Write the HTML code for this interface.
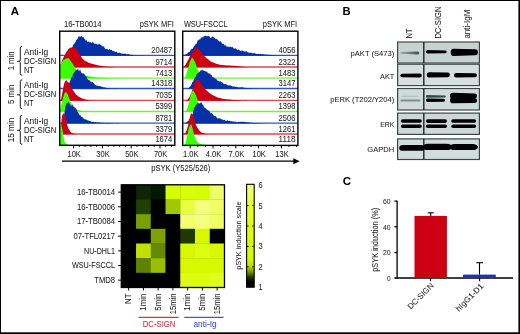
<!DOCTYPE html>
<html><head><meta charset="utf-8"><style>html,body{margin:0;padding:0;background:#fff;width:520px;height:334px;overflow:hidden}</style></head>
<body><svg width="520" height="334" viewBox="0 0 520 334" style="display:block;will-change:transform">
<style>text{font-family:"Liberation Sans", sans-serif;stroke-width:0.04px}</style>
<rect x="0" y="0" width="520" height="334" fill="#000"/>
<rect x="1" y="1" width="517.4" height="331.3" fill="#fff"/>
<text x="10.8" y="14.6" font-size="11.2" text-anchor="start" fill="#000" stroke="none" font-weight="bold" textLength="8.3" lengthAdjust="spacingAndGlyphs" >A</text>
<text x="63.9" y="26.6" font-size="8.5" text-anchor="start" fill="#1a1a1a" stroke="#1a1a1a" font-weight="normal" textLength="37.7" lengthAdjust="spacingAndGlyphs" >16-TB0014</text>
<text x="173.8" y="26.6" font-size="8.5" text-anchor="end" fill="#1a1a1a" stroke="#1a1a1a" font-weight="normal" textLength="34.1" lengthAdjust="spacingAndGlyphs" >pSYK MFI</text>
<text x="183.9" y="26.6" font-size="8.5" text-anchor="start" fill="#1a1a1a" stroke="#1a1a1a" font-weight="normal" textLength="43.8" lengthAdjust="spacingAndGlyphs" >WSU-FSCCL</text>
<text x="297.1" y="26.6" font-size="8.5" text-anchor="end" fill="#1a1a1a" stroke="#1a1a1a" font-weight="normal" textLength="34.3" lengthAdjust="spacingAndGlyphs" >pSYK MFI</text>
<clipPath id="cp59"><rect x="59.7" y="31" width="115.10000000000001" height="114.2"/></clipPath>
<g clip-path="url(#cp59)">
<line x1="59.7" y1="55.400000000000006" x2="174.8" y2="55.400000000000006" stroke="#2f58c4" stroke-width="1.3"/>
<path d="M60.00,55.70L60.00,55.70L60.40,55.70L60.80,55.70L61.20,55.70L61.60,55.70L62.00,55.70L62.40,55.70L62.80,55.70L63.20,55.68L63.60,55.63L64.00,55.64L64.40,55.68L64.80,55.68L65.20,55.69L65.60,55.69L66.00,55.66L66.40,55.62L66.80,55.59L67.20,55.57L67.60,55.57L68.00,55.54L68.40,55.46L68.80,55.48L69.20,55.53L69.60,55.36L70.00,54.16L70.40,52.43L70.80,51.12L71.20,50.00L71.60,48.86L72.00,48.19L72.40,47.17L72.80,45.77L73.20,44.88L73.60,44.20L74.00,44.02L74.40,43.85L74.80,42.67L75.20,42.20L75.60,41.92L76.00,40.50L76.40,39.57L76.80,39.68L77.20,39.52L77.60,38.68L78.00,37.65L78.40,36.73L78.80,36.55L79.20,36.55L79.60,36.34L80.00,36.79L80.40,36.95L80.80,36.17L81.20,35.85L81.60,36.34L82.00,36.53L82.40,36.87L82.80,37.38L83.20,36.81L83.60,37.11L84.00,38.38L84.40,38.85L84.80,38.98L85.20,39.46L85.60,40.51L86.00,40.63L86.40,39.84L86.80,40.40L87.20,41.80L87.60,41.90L88.00,41.60L88.40,41.54L88.80,41.54L89.20,42.10L89.60,42.48L90.00,42.33L90.40,41.97L90.80,42.24L91.20,43.10L91.60,43.11L92.00,42.20L92.40,41.95L92.80,42.16L93.20,42.26L93.60,42.84L94.00,43.57L94.40,43.95L94.80,43.60L95.20,43.36L95.60,44.00L96.00,44.25L96.40,43.91L96.80,43.63L97.20,43.83L97.60,44.71L98.00,45.02L98.40,44.24L98.80,43.57L99.20,43.74L99.60,44.29L100.00,44.64L100.40,44.75L100.80,44.82L101.20,45.10L101.60,45.69L102.00,46.06L102.40,46.26L102.80,46.52L103.20,46.48L103.60,46.24L104.00,46.48L104.40,47.49L104.80,48.60L105.20,48.84L105.60,48.63L106.00,48.92L106.40,49.24L106.80,48.75L107.20,48.75L107.60,49.60L108.00,49.97L108.40,49.86L108.80,49.61L109.20,49.22L109.60,49.18L110.00,49.62L110.40,49.89L110.80,49.83L111.20,49.74L111.60,49.86L112.00,50.31L112.40,50.91L112.80,51.22L113.20,51.09L113.60,50.81L114.00,51.00L114.40,51.50L114.80,51.67L115.20,51.74L115.60,52.06L116.00,52.21L116.40,51.80L116.80,51.62L117.20,52.16L117.60,52.71L118.00,53.00L118.40,53.00L118.80,52.68L119.20,52.60L119.60,52.80L120.00,52.92L120.40,53.01L120.80,53.27L121.20,53.56L121.60,53.52L122.00,53.47L122.40,53.61L122.80,53.73L123.20,53.78L123.60,53.68L124.00,53.60L124.40,53.75L124.80,53.79L125.20,53.69L125.60,53.61L126.00,53.83L126.40,54.17L126.80,54.17L127.20,54.17L127.60,54.19L128.00,54.09L128.40,54.09L128.80,54.22L129.20,54.33L129.60,54.41L130.00,54.63L130.40,54.75L130.80,54.78L131.20,54.80L131.60,54.70L132.00,54.67L132.40,54.77L132.80,54.99L133.20,55.14L133.60,55.11L134.00,55.13L134.40,55.21L134.80,55.23L135.20,55.18L135.60,55.19L136.00,55.27L136.40,55.31L136.80,55.41L137.20,55.50L137.60,55.52L138.00,55.52L138.40,55.44L138.80,55.39L139.20,55.42L139.60,55.40L140.00,55.39L140.40,55.45L140.80,55.51L141.20,55.59L141.60,55.61L142.00,55.60L142.40,55.62L142.80,55.59L143.20,55.56L143.60,55.56L144.00,55.61L144.40,55.65L144.80,55.64L145.20,55.66L145.60,55.66L146.00,55.66L146.40,55.67L146.80,55.69L147.20,55.70L147.60,55.70L148.00,55.70L148.40,55.70L148.80,55.70L149.20,55.69L149.60,55.70L150.00,55.70L150.00,55.70Z" fill="#0530a8"/>
<line x1="59.7" y1="67.0" x2="174.8" y2="67.0" stroke="#d84a5a" stroke-width="1.3"/>
<path d="M59.90,67.30L59.90,66.60L60.30,65.48L60.70,64.38L61.10,63.24L61.50,62.27L61.90,61.37L62.30,60.31L62.70,59.27L63.10,58.40L63.50,57.55L63.90,56.51L64.30,55.65L64.70,55.09L65.10,54.36L65.50,53.56L65.90,52.76L66.30,51.91L66.70,51.44L67.10,51.15L67.50,50.57L67.90,49.66L68.30,48.90L68.70,48.70L69.10,48.52L69.50,48.25L69.90,47.91L70.30,47.62L70.70,47.65L71.10,47.59L71.50,47.40L71.90,47.43L72.30,47.35L72.70,47.06L73.10,47.08L73.50,47.30L73.90,47.47L74.30,47.55L74.70,47.51L75.10,47.70L75.50,48.08L75.90,48.51L76.30,49.05L76.70,49.60L77.10,50.07L77.50,50.68L77.90,51.37L78.30,51.88L78.70,52.47L79.10,53.30L79.50,54.03L79.90,54.42L80.30,54.95L80.70,55.83L81.10,56.63L81.50,57.19L81.90,57.85L82.30,58.60L82.70,58.97L83.10,59.29L83.50,59.69L83.90,59.91L84.30,60.24L84.70,60.64L85.10,60.95L85.50,61.27L85.90,61.34L86.30,61.38L86.70,61.60L87.10,61.76L87.50,61.94L87.90,62.16L88.30,62.48L88.70,62.82L89.10,62.88L89.50,62.94L89.90,63.18L90.30,63.33L90.70,63.37L91.10,63.56L91.50,63.78L91.90,63.80L92.30,63.81L92.70,63.92L93.10,63.95L93.50,64.02L93.90,64.26L94.30,64.51L94.70,64.62L95.10,64.59L95.50,64.60L95.90,64.69L96.30,64.82L96.70,64.94L97.10,65.04L97.50,65.14L97.90,65.27L98.30,65.41L98.70,65.51L99.10,65.54L99.50,65.62L99.90,65.65L100.30,65.66L100.70,65.65L101.10,65.64L101.50,65.78L101.90,65.96L102.30,66.01L102.70,66.10L103.10,66.19L103.50,66.25L103.90,66.40L104.30,66.52L104.70,66.49L105.10,66.48L105.50,66.52L105.90,66.61L106.30,66.65L106.70,66.64L107.10,66.70L107.50,66.71L107.90,66.70L108.30,66.75L108.70,66.80L109.10,66.81L109.50,66.84L109.90,66.88L110.30,66.88L110.70,66.86L111.10,66.87L111.50,66.95L111.90,66.99L112.30,66.99L112.70,67.01L113.10,67.02L113.50,67.02L113.90,67.04L114.30,67.08L114.70,67.12L115.10,67.16L115.50,67.14L115.90,67.12L116.30,67.15L116.70,67.19L117.10,67.19L117.50,67.19L117.90,67.20L118.30,67.22L118.70,67.22L119.10,67.22L119.50,67.24L119.90,67.25L120.30,67.25L120.70,67.27L121.10,67.28L121.50,67.29L121.90,67.30L121.90,67.30Z" fill="#cc0010"/>
<line x1="59.7" y1="78.10000000000001" x2="174.8" y2="78.10000000000001" stroke="#74f048" stroke-width="1.3"/>
<path d="M59.90,78.40L59.90,66.79L60.30,65.50L60.70,64.22L61.10,63.08L61.50,62.21L61.90,61.70L62.30,61.55L62.70,61.30L63.10,60.62L63.50,60.03L63.90,59.75L64.30,59.56L64.70,59.43L65.10,59.29L65.50,58.91L65.90,58.39L66.30,58.26L66.70,58.41L67.10,58.40L67.50,58.03L67.90,57.71L68.30,58.09L68.70,58.59L69.10,58.79L69.50,59.18L69.90,59.83L70.30,60.38L70.70,60.88L71.10,61.45L71.50,62.13L71.90,62.74L72.30,63.16L72.70,63.62L73.10,64.39L73.50,65.36L73.90,65.94L74.30,66.51L74.70,67.32L75.10,67.90L75.50,68.35L75.90,68.90L76.30,69.47L76.70,69.83L77.10,70.02L77.50,70.35L77.90,70.82L78.30,71.22L78.70,71.48L79.10,71.82L79.50,72.33L79.90,72.69L80.30,72.90L80.70,73.20L81.10,73.44L81.50,73.59L81.90,73.83L82.30,74.10L82.70,74.32L83.10,74.55L83.50,74.73L83.90,74.96L84.30,75.10L84.70,75.12L85.10,75.29L85.50,75.48L85.90,75.57L86.30,75.63L86.70,75.75L87.10,75.84L87.50,75.94L87.90,76.11L88.30,76.25L88.70,76.28L89.10,76.27L89.50,76.30L89.90,76.41L90.30,76.56L90.70,76.65L91.10,76.71L91.50,76.78L91.90,76.82L92.30,76.89L92.70,77.01L93.10,77.06L93.50,77.05L93.90,76.99L94.30,77.01L94.70,77.17L95.10,77.32L95.50,77.40L95.90,77.39L96.30,77.40L96.70,77.45L97.10,77.48L97.50,77.54L97.90,77.56L98.30,77.58L98.70,77.62L99.10,77.59L99.50,77.61L99.90,77.73L100.30,77.76L100.70,77.73L101.10,77.76L101.50,77.82L101.90,77.83L102.30,77.83L102.70,77.83L103.10,77.83L103.50,77.83L103.90,77.82L104.30,77.84L104.70,77.88L105.10,77.90L105.50,77.92L105.90,77.98L106.30,78.03L106.70,78.03L107.10,78.02L107.50,78.03L107.90,78.06L108.30,78.09L108.70,78.09L109.10,78.09L109.50,78.13L109.90,78.17L110.30,78.18L110.70,78.20L111.10,78.21L111.50,78.22L111.90,78.21L112.30,78.21L112.70,78.24L113.10,78.27L113.50,78.27L113.90,78.28L114.30,78.31L114.70,78.31L115.10,78.30L115.50,78.30L115.90,78.31L116.30,78.33L116.70,78.34L117.10,78.32L117.50,78.32L117.90,78.33L118.30,78.34L118.70,78.35L119.10,78.37L119.50,78.37L119.90,78.37L120.30,78.37L120.70,78.38L121.10,78.38L121.50,78.38L121.90,78.38L122.30,78.39L122.70,78.39L123.10,78.39L123.50,78.40L123.90,78.40L124.30,78.40L124.70,78.40L124.70,78.40Z" fill="#3cff00"/>
<line x1="59.7" y1="88.5" x2="174.8" y2="88.5" stroke="#2f58c4" stroke-width="1.3"/>
<path d="M65.00,88.80L65.00,88.80L65.40,88.75L65.80,88.68L66.20,88.48L66.60,88.22L67.00,88.05L67.40,87.80L67.80,87.52L68.20,86.77L68.60,85.25L69.00,83.84L69.40,82.75L69.80,81.70L70.20,80.93L70.60,79.53L71.00,77.67L71.40,77.18L71.80,77.99L72.20,77.90L72.60,75.90L73.00,74.01L73.40,73.48L73.80,72.89L74.20,72.23L74.60,72.04L75.00,71.30L75.40,70.38L75.80,70.04L76.20,70.11L76.60,70.15L77.00,70.00L77.40,69.75L77.80,68.75L78.20,68.52L78.60,70.35L79.00,71.56L79.40,70.85L79.80,69.84L80.20,69.58L80.60,70.55L81.00,72.27L81.40,72.86L81.80,72.82L82.20,73.26L82.60,73.38L83.00,73.50L83.40,73.60L83.80,73.62L84.20,73.86L84.60,74.53L85.00,75.39L85.40,75.70L85.80,75.97L86.20,76.26L86.60,76.72L87.00,77.84L87.40,78.88L87.80,79.41L88.20,79.51L88.60,79.71L89.00,80.08L89.40,80.13L89.80,80.48L90.20,81.27L90.60,81.73L91.00,81.59L91.40,81.86L91.80,82.39L92.20,82.08L92.60,82.04L93.00,82.69L93.40,82.92L93.80,82.89L94.20,83.58L94.60,84.47L95.00,84.78L95.40,84.91L95.80,85.36L96.20,85.67L96.60,85.52L97.00,85.53L97.40,85.68L97.80,85.68L98.20,85.75L98.60,86.05L99.00,86.25L99.40,86.05L99.80,86.03L100.20,86.22L100.60,86.28L101.00,86.50L101.40,86.66L101.80,86.68L102.20,86.84L102.60,86.95L103.00,87.06L103.40,87.26L103.80,87.49L104.20,87.50L104.60,87.33L105.00,87.41L105.40,87.60L105.80,87.69L106.20,87.79L106.60,88.00L107.00,88.07L107.40,88.03L107.80,88.09L108.20,88.13L108.60,88.10L109.00,88.13L109.40,88.09L109.80,87.99L110.20,88.01L110.60,88.13L111.00,88.29L111.40,88.46L111.80,88.54L112.20,88.59L112.60,88.64L113.00,88.58L113.40,88.44L113.80,88.39L114.20,88.49L114.60,88.59L115.00,88.62L115.40,88.62L115.80,88.61L116.20,88.60L116.60,88.55L117.00,88.51L117.40,88.53L117.80,88.57L118.20,88.65L118.60,88.69L119.00,88.65L119.40,88.66L119.80,88.73L120.20,88.77L120.60,88.79L121.00,88.77L121.40,88.75L121.80,88.77L122.20,88.80L122.60,88.80L123.00,88.79L123.40,88.78L123.80,88.79L124.20,88.80L124.60,88.80L125.00,88.80L125.00,88.80Z" fill="#0530a8"/>
<line x1="59.7" y1="100.4" x2="174.8" y2="100.4" stroke="#d84a5a" stroke-width="1.3"/>
<path d="M59.90,100.70L59.90,100.70L60.30,100.45L60.70,99.92L61.10,98.98L61.50,97.30L61.90,95.17L62.30,92.96L62.70,90.85L63.10,88.77L63.50,86.76L63.90,84.66L64.30,83.11L64.70,82.16L65.10,81.57L65.50,80.94L65.90,80.32L66.30,80.26L66.70,80.74L67.10,81.10L67.50,81.45L67.90,82.22L68.30,82.42L68.70,82.40L69.10,83.13L69.50,84.06L69.90,84.77L70.30,85.44L70.70,86.28L71.10,86.95L71.50,87.62L71.90,88.34L72.30,88.99L72.70,89.81L73.10,90.47L73.50,90.98L73.90,91.52L74.30,92.00L74.70,92.56L75.10,93.27L75.50,93.90L75.90,94.38L76.30,94.72L76.70,95.02L77.10,95.40L77.50,95.75L77.90,96.11L78.30,96.42L78.70,96.66L79.10,96.96L79.50,97.12L79.90,97.28L80.30,97.58L80.70,97.85L81.10,98.06L81.50,98.25L81.90,98.40L82.30,98.52L82.70,98.62L83.10,98.68L83.50,98.75L83.90,98.90L84.30,99.06L84.70,99.21L85.10,99.36L85.50,99.52L85.90,99.64L86.30,99.64L86.70,99.65L87.10,99.79L87.50,99.90L87.90,99.96L88.30,100.08L88.70,100.19L89.10,100.27L89.50,100.30L89.90,100.28L90.30,100.27L90.70,100.34L91.10,100.41L91.50,100.43L91.90,100.46L92.30,100.49L92.70,100.48L93.10,100.48L93.50,100.50L93.90,100.54L94.30,100.59L94.70,100.60L95.10,100.58L95.50,100.60L95.90,100.64L96.30,100.64L96.70,100.65L97.10,100.66L97.50,100.67L97.90,100.68L98.30,100.69L98.70,100.69L99.10,100.70L99.50,100.70L99.90,100.70L99.90,100.70Z" fill="#cc0010"/>
<line x1="59.7" y1="111.5" x2="174.8" y2="111.5" stroke="#74f048" stroke-width="1.3"/>
<path d="M59.90,111.80L59.90,109.90L60.30,108.48L60.70,106.88L61.10,105.28L61.50,103.88L61.90,102.50L62.30,100.96L62.70,99.41L63.10,97.85L63.50,96.13L63.90,94.69L64.30,93.77L64.70,93.07L65.10,92.60L65.50,92.24L65.90,92.26L66.30,92.59L66.70,92.87L67.10,93.31L67.50,93.99L67.90,94.79L68.30,95.88L68.70,96.94L69.10,98.15L69.50,99.34L69.90,100.28L70.30,101.11L70.70,101.94L71.10,102.99L71.50,103.86L71.90,104.36L72.30,105.07L72.70,105.87L73.10,106.52L73.50,107.08L73.90,107.53L74.30,107.86L74.70,108.08L75.10,108.45L75.50,108.95L75.90,109.26L76.30,109.47L76.70,109.69L77.10,109.81L77.50,109.95L77.90,110.13L78.30,110.23L78.70,110.26L79.10,110.30L79.50,110.42L79.90,110.57L80.30,110.70L80.70,110.81L81.10,110.90L81.50,110.97L81.90,111.04L82.30,111.14L82.70,111.20L83.10,111.20L83.50,111.24L83.90,111.32L84.30,111.35L84.70,111.36L85.10,111.40L85.50,111.45L85.90,111.48L86.30,111.49L86.70,111.50L87.10,111.55L87.50,111.64L87.90,111.67L88.30,111.65L88.70,111.64L89.10,111.66L89.50,111.68L89.90,111.71L90.30,111.72L90.70,111.71L91.10,111.71L91.50,111.73L91.90,111.74L92.30,111.75L92.70,111.75L93.10,111.75L93.50,111.76L93.90,111.77L94.30,111.77L94.70,111.76L95.10,111.77L95.50,111.79L95.90,111.79L96.30,111.79L96.70,111.79L97.10,111.80L97.50,111.80L97.90,111.79L98.30,111.79L98.70,111.80L99.10,111.80L99.50,111.80L99.90,111.80L99.90,111.80Z" fill="#3cff00"/>
<line x1="59.7" y1="123.10000000000001" x2="174.8" y2="123.10000000000001" stroke="#2f58c4" stroke-width="1.3"/>
<path d="M61.00,123.40L61.00,123.40L61.40,123.14L61.80,122.58L62.20,121.89L62.60,121.12L63.00,120.17L63.40,119.37L63.80,117.62L64.20,114.69L64.60,111.86L65.00,109.58L65.40,107.49L65.80,104.99L66.20,103.77L66.60,103.48L67.00,102.74L67.40,102.51L67.80,102.99L68.20,102.47L68.60,101.79L69.00,102.44L69.40,103.57L69.80,103.96L70.20,104.23L70.60,105.62L71.00,106.54L71.40,105.98L71.80,105.02L72.20,104.29L72.60,104.94L73.00,106.26L73.40,106.51L73.80,106.39L74.20,106.97L74.60,107.47L75.00,107.59L75.40,107.90L75.80,108.49L76.20,109.02L76.60,109.32L77.00,110.58L77.40,111.90L77.80,112.12L78.20,112.62L78.60,113.55L79.00,114.34L79.40,114.75L79.80,115.01L80.20,115.31L80.60,115.48L81.00,116.05L81.40,116.81L81.80,116.99L82.20,116.94L82.60,117.32L83.00,117.94L83.40,118.36L83.80,118.74L84.20,119.26L84.60,119.31L85.00,119.08L85.40,119.36L85.80,119.78L86.20,119.87L86.60,119.65L87.00,119.73L87.40,120.20L87.80,120.55L88.20,120.63L88.60,120.48L89.00,120.71L89.40,121.05L89.80,121.02L90.20,121.09L90.60,121.25L91.00,121.44L91.40,121.69L91.80,121.73L92.20,121.67L92.60,121.83L93.00,121.86L93.40,121.72L93.80,121.92L94.20,122.20L94.60,122.20L95.00,122.06L95.40,122.03L95.80,122.12L96.20,122.28L96.60,122.50L97.00,122.55L97.40,122.49L97.80,122.44L98.20,122.54L98.60,122.53L99.00,122.34L99.40,122.46L99.80,122.55L100.20,122.46L100.60,122.49L101.00,122.74L101.40,123.02L101.80,122.92L102.20,122.75L102.60,122.85L103.00,123.03L103.40,123.00L103.80,122.78L104.20,122.76L104.60,122.91L105.00,122.91L105.40,122.94L105.80,123.01L106.20,122.97L106.60,122.89L107.00,122.83L107.40,122.83L107.80,122.94L108.20,123.01L108.60,123.02L109.00,123.10L109.40,123.11L109.80,123.03L110.20,123.05L110.60,123.06L111.00,123.09L111.40,123.14L111.80,123.11L112.20,123.10L112.60,123.14L113.00,123.18L113.40,123.28L113.80,123.35L114.20,123.31L114.60,123.26L115.00,123.22L115.40,123.24L115.80,123.29L116.20,123.27L116.60,123.22L117.00,123.24L117.40,123.29L117.80,123.32L118.20,123.35L118.60,123.36L119.00,123.36L119.40,123.38L119.80,123.39L119.80,123.40Z" fill="#0530a8"/>
<line x1="59.7" y1="134.0" x2="174.8" y2="134.0" stroke="#d84a5a" stroke-width="1.3"/>
<path d="M59.90,134.30L59.90,134.30L60.30,133.52L60.70,131.51L61.10,126.20L61.50,120.02L61.90,116.59L62.30,115.02L62.70,114.40L63.10,113.60L63.50,113.61L63.90,114.10L64.30,114.42L64.70,114.86L65.10,115.68L65.50,116.81L65.90,118.14L66.30,119.97L66.70,122.39L67.10,124.45L67.50,125.77L67.90,126.95L68.30,128.16L68.70,129.08L69.10,129.61L69.50,130.14L69.90,130.76L70.30,131.44L70.70,132.08L71.10,132.48L71.50,132.71L71.90,132.97L72.30,133.21L72.70,133.34L73.10,133.48L73.50,133.64L73.90,133.73L74.30,133.79L74.70,133.87L75.10,133.91L75.50,133.96L75.90,134.02L76.30,134.08L76.70,134.12L77.10,134.15L77.50,134.20L77.90,134.24L78.30,134.25L78.70,134.27L79.10,134.28L79.50,134.29L79.90,134.30L79.90,134.30Z" fill="#cc0010"/>
<path d="M59.90,145.00L59.90,124.89L60.30,124.51L60.70,124.61L61.10,125.11L61.50,126.15L61.90,127.34L62.30,129.09L62.70,131.40L63.10,133.65L63.50,136.15L63.90,139.01L64.30,140.81L64.70,141.96L65.10,142.66L65.50,143.16L65.90,143.43L66.30,143.72L66.70,144.07L67.10,144.28L67.50,144.44L67.90,144.59L68.30,144.74L68.70,144.87L69.10,144.93L69.50,144.97L69.90,145.00L69.90,145.00Z" fill="#3cff00"/>
</g>
<clipPath id="cp182"><rect x="182.7" y="31" width="115.19999999999999" height="114.2"/></clipPath>
<g clip-path="url(#cp182)">
<line x1="182.7" y1="55.400000000000006" x2="297.9" y2="55.400000000000006" stroke="#2f58c4" stroke-width="1.3"/>
<path d="M182.70,55.70L182.70,55.70L183.10,55.45L183.50,55.29L183.90,55.25L184.30,55.14L184.70,54.83L185.10,54.52L185.50,54.44L185.90,54.42L186.30,54.24L186.70,53.95L187.10,53.60L187.50,53.32L187.90,52.93L188.30,52.46L188.70,51.98L189.10,51.67L189.50,51.91L189.90,51.75L190.30,50.63L190.70,49.65L191.10,49.30L191.50,49.15L191.90,48.86L192.30,48.72L192.70,48.65L193.10,47.96L193.50,47.11L193.90,46.29L194.30,45.64L194.70,45.72L195.10,45.11L195.50,44.06L195.90,43.98L196.30,44.04L196.70,43.53L197.10,42.21L197.50,40.72L197.90,40.15L198.30,40.14L198.70,39.90L199.10,39.33L199.50,39.31L199.90,39.61L200.30,39.21L200.70,38.27L201.10,37.69L201.50,37.70L201.90,37.10L202.30,36.65L202.70,37.58L203.10,37.70L203.50,36.52L203.90,36.10L204.30,36.19L204.70,36.08L205.10,35.89L205.50,35.69L205.90,35.52L206.30,35.64L206.70,36.32L207.10,36.45L207.50,36.07L207.90,35.89L208.30,35.72L208.70,36.05L209.10,36.44L209.50,36.50L209.90,37.10L210.30,37.87L210.70,37.96L211.10,37.72L211.50,37.46L211.90,37.03L212.30,36.75L212.70,36.61L213.10,36.42L213.50,36.97L213.90,37.60L214.30,37.39L214.70,37.80L215.10,38.76L215.50,38.79L215.90,38.63L216.30,38.87L216.70,39.06L217.10,39.30L217.50,39.76L217.90,40.22L218.30,40.52L218.70,40.67L219.10,41.14L219.50,41.75L219.90,41.38L220.30,40.91L220.70,41.42L221.10,42.00L221.50,42.48L221.90,43.26L222.30,43.75L222.70,43.79L223.10,43.66L223.50,43.83L223.90,44.27L224.30,44.67L224.70,45.43L225.10,45.72L225.50,45.26L225.90,45.20L226.30,46.14L226.70,46.73L227.10,46.29L227.50,46.32L227.90,46.93L228.30,47.18L228.70,47.03L229.10,46.69L229.50,46.85L229.90,46.96L230.30,46.53L230.70,46.87L231.10,47.33L231.50,47.24L231.90,46.99L232.30,46.66L232.70,47.09L233.10,47.94L233.50,48.35L233.90,48.50L234.30,48.43L234.70,48.43L235.10,48.46L235.50,48.36L235.90,48.70L236.30,48.95L236.70,49.22L237.10,49.93L237.50,49.95L237.90,49.54L238.30,49.62L238.70,49.78L239.10,49.93L239.50,50.22L239.90,50.52L240.30,50.98L240.70,50.95L241.10,50.56L241.50,50.81L241.90,50.87L242.30,50.42L242.70,50.55L243.10,51.12L243.50,51.37L243.90,51.46L244.30,51.53L244.70,51.41L245.10,51.42L245.50,51.50L245.90,51.44L246.30,51.34L246.70,51.21L247.10,51.63L247.50,52.21L247.90,52.29L248.30,52.57L248.70,52.71L249.10,52.51L249.50,52.63L249.90,52.63L250.30,52.56L250.70,52.89L251.10,53.08L251.50,52.84L251.90,52.70L252.30,53.04L252.70,53.50L253.10,53.55L253.50,53.25L253.90,52.99L254.30,53.07L254.70,53.21L255.10,53.36L255.50,53.58L255.90,53.64L256.30,53.74L256.70,53.96L257.10,53.91L257.50,53.91L257.90,54.02L258.30,53.88L258.70,53.76L259.10,53.89L259.50,54.11L259.90,54.04L260.30,53.85L260.70,53.99L261.10,54.23L261.50,54.13L261.90,54.01L262.30,54.14L262.70,54.05L263.10,53.91L263.50,54.16L263.90,54.44L264.30,54.57L264.70,54.46L265.10,54.28L265.50,54.45L265.90,54.72L266.30,54.72L266.70,54.55L267.10,54.52L267.50,54.61L267.90,54.63L268.30,54.67L268.70,54.67L269.10,54.63L269.50,54.70L269.90,54.84L270.30,54.86L270.70,54.91L271.10,55.02L271.50,54.97L271.90,54.87L272.30,54.89L272.70,55.01L273.10,55.09L273.50,55.14L273.90,55.20L274.30,55.19L274.70,55.14L275.10,55.21L275.50,55.32L275.90,55.40L276.30,55.42L276.70,55.33L277.10,55.31L277.50,55.37L277.90,55.42L278.30,55.40L278.70,55.33L279.10,55.37L279.50,55.45L279.90,55.44L280.30,55.47L280.70,55.51L281.10,55.50L281.50,55.52L281.90,55.56L282.30,55.57L282.70,55.55L283.10,55.56L283.50,55.60L283.90,55.64L284.30,55.62L284.70,55.57L285.10,55.55L285.50,55.56L285.90,55.57L286.30,55.62L286.70,55.65L287.10,55.65L287.50,55.65L287.90,55.63L288.30,55.62L288.70,55.65L289.10,55.64L289.50,55.61L289.90,55.64L290.30,55.66L290.70,55.66L291.10,55.68L291.50,55.68L291.90,55.70L292.30,55.70L292.70,55.70L293.10,55.70L293.50,55.70L293.90,55.70L294.30,55.70L294.70,55.70L294.70,55.70Z" fill="#0530a8"/>
<line x1="182.7" y1="67.0" x2="297.9" y2="67.0" stroke="#d84a5a" stroke-width="1.3"/>
<path d="M182.70,67.30L182.70,67.11L183.10,67.01L183.50,66.84L183.90,66.61L184.30,66.29L184.70,65.83L185.10,65.30L185.50,64.68L185.90,64.00L186.30,63.37L186.70,62.73L187.10,61.90L187.50,61.04L187.90,60.35L188.30,59.63L188.70,58.79L189.10,57.90L189.50,57.01L189.90,56.24L190.30,55.56L190.70,54.97L191.10,54.30L191.50,53.50L191.90,52.77L192.30,52.26L192.70,51.96L193.10,51.57L193.50,50.90L193.90,50.46L194.30,50.12L194.70,49.29L195.10,48.33L195.50,47.78L195.90,47.74L196.30,47.60L196.70,47.49L197.10,47.85L197.50,48.20L197.90,48.50L198.30,49.01L198.70,49.46L199.10,49.57L199.50,49.70L199.90,50.12L200.30,50.73L200.70,51.26L201.10,51.68L201.50,52.24L201.90,53.04L202.30,53.84L202.70,54.40L203.10,54.84L203.50,55.19L203.90,55.63L204.30,56.16L204.70,56.40L205.10,56.60L205.50,57.00L205.90,57.50L206.30,58.02L206.70,58.46L207.10,58.75L207.50,58.87L207.90,59.02L208.30,59.38L208.70,59.85L209.10,60.20L209.50,60.40L209.90,60.75L210.30,61.21L210.70,61.45L211.10,61.55L211.50,61.64L211.90,61.72L212.30,62.03L212.70,62.41L213.10,62.51L213.50,62.61L213.90,62.86L214.30,63.01L214.70,63.08L215.10,63.20L215.50,63.41L215.90,63.62L216.30,63.73L216.70,63.81L217.10,63.92L217.50,64.01L217.90,64.08L218.30,64.25L218.70,64.43L219.10,64.56L219.50,64.63L219.90,64.69L220.30,64.74L220.70,64.80L221.10,64.94L221.50,65.00L221.90,64.97L222.30,65.05L222.70,65.10L223.10,65.05L223.50,65.16L223.90,65.34L224.30,65.30L224.70,65.18L225.10,65.21L225.50,65.25L225.90,65.26L226.30,65.35L226.70,65.40L227.10,65.38L227.50,65.38L227.90,65.35L228.30,65.37L228.70,65.40L229.10,65.43L229.50,65.52L229.90,65.52L230.30,65.47L230.70,65.51L231.10,65.58L231.50,65.66L231.90,65.71L232.30,65.72L232.70,65.74L233.10,65.78L233.50,65.79L233.90,65.76L234.30,65.77L234.70,65.83L235.10,65.86L235.50,65.91L235.90,66.05L236.30,66.08L236.70,65.97L237.10,65.97L237.50,66.07L237.90,66.15L238.30,66.25L238.70,66.30L239.10,66.31L239.50,66.34L239.90,66.35L240.30,66.39L240.70,66.41L241.10,66.39L241.50,66.46L241.90,66.58L242.30,66.67L242.70,66.77L243.10,66.83L243.50,66.84L243.90,66.87L244.30,66.94L244.70,66.97L245.10,67.01L245.50,67.05L245.90,67.04L246.30,67.03L246.70,67.06L247.10,67.08L247.50,67.11L247.90,67.13L248.30,67.13L248.70,67.12L249.10,67.14L249.50,67.17L249.90,67.21L250.30,67.24L250.70,67.25L251.10,67.26L251.50,67.26L251.90,67.25L252.30,67.26L252.70,67.28L253.10,67.29L253.50,67.30L253.90,67.30L254.30,67.30L254.70,67.30L254.70,67.30Z" fill="#cc0010"/>
<line x1="182.7" y1="78.10000000000001" x2="297.9" y2="78.10000000000001" stroke="#74f048" stroke-width="1.3"/>
<path d="M183.00,78.40L183.00,78.40L183.40,78.34L183.80,78.19L184.20,77.96L184.60,77.65L185.00,77.26L185.40,76.81L185.80,76.04L186.20,74.94L186.60,73.51L187.00,71.90L187.40,70.38L187.80,69.03L188.20,67.72L188.60,66.46L189.00,65.08L189.40,63.40L189.80,61.84L190.20,60.91L190.60,60.38L191.00,59.41L191.40,58.45L191.80,57.98L192.20,57.79L192.60,58.00L193.00,58.52L193.40,59.20L193.80,60.04L194.20,60.71L194.60,61.24L195.00,62.10L195.40,63.35L195.80,64.37L196.20,65.28L196.60,66.30L197.00,67.41L197.40,68.56L197.80,69.53L198.20,70.29L198.60,71.05L199.00,71.85L199.40,72.64L199.80,73.38L200.20,73.94L200.60,74.33L201.00,74.72L201.40,75.08L201.80,75.40L202.20,75.63L202.60,75.97L203.00,76.33L203.40,76.52L203.80,76.71L204.20,76.90L204.60,77.02L205.00,77.15L205.40,77.31L205.80,77.43L206.20,77.49L206.60,77.52L207.00,77.56L207.40,77.64L207.80,77.74L208.20,77.85L208.60,77.92L209.00,77.92L209.40,77.93L209.80,77.95L210.20,77.97L210.60,78.03L211.00,78.10L211.40,78.14L211.80,78.13L212.20,78.14L212.60,78.18L213.00,78.20L213.40,78.23L213.80,78.23L214.20,78.22L214.60,78.23L215.00,78.26L215.40,78.28L215.80,78.30L216.20,78.31L216.60,78.32L217.00,78.34L217.40,78.36L217.80,78.38L218.20,78.39L218.60,78.40L219.00,78.40L219.40,78.40L219.80,78.40L219.80,78.40Z" fill="#3cff00"/>
<line x1="182.7" y1="88.5" x2="297.9" y2="88.5" stroke="#2f58c4" stroke-width="1.3"/>
<path d="M186.00,88.80L186.00,88.80L186.40,88.77L186.80,88.68L187.20,88.54L187.60,88.33L188.00,88.25L188.40,88.29L188.80,88.07L189.20,87.46L189.60,86.85L190.00,86.46L190.40,86.18L190.80,85.67L191.20,84.99L191.60,84.16L192.00,83.00L192.40,82.09L192.80,81.79L193.20,81.46L193.60,80.37L194.00,79.22L194.40,78.53L194.80,77.83L195.20,77.35L195.60,76.96L196.00,75.69L196.40,74.62L196.80,74.48L197.20,73.67L197.60,72.90L198.00,72.90L198.40,72.74L198.80,72.55L199.20,72.23L199.60,71.87L200.00,71.36L200.40,70.66L200.80,70.16L201.20,70.47L201.60,70.44L202.00,69.36L202.40,69.56L202.80,70.48L203.20,70.34L203.60,70.26L204.00,70.77L204.40,71.06L204.80,70.93L205.20,71.02L205.60,71.38L206.00,71.38L206.40,71.51L206.80,71.69L207.20,71.71L207.60,72.56L208.00,73.38L208.40,73.31L208.80,73.39L209.20,73.77L209.60,73.51L210.00,73.28L210.40,74.04L210.80,74.90L211.20,75.12L211.60,75.19L212.00,75.93L212.40,76.94L212.80,77.21L213.20,76.81L213.60,77.14L214.00,78.18L214.40,78.31L214.80,77.80L215.20,78.13L215.60,79.08L216.00,79.21L216.40,79.11L216.80,79.65L217.20,80.16L217.60,80.58L218.00,80.88L218.40,80.75L218.80,80.96L219.20,81.48L219.60,81.32L220.00,81.11L220.40,81.34L220.80,81.71L221.20,81.98L221.60,82.16L222.00,82.33L222.40,82.41L222.80,82.95L223.20,83.58L223.60,83.78L224.00,83.86L224.40,84.01L224.80,84.18L225.20,84.14L225.60,83.95L226.00,84.06L226.40,84.28L226.80,84.45L227.20,84.94L227.60,85.35L228.00,85.29L228.40,85.26L228.80,85.65L229.20,85.66L229.60,85.09L230.00,84.85L230.40,85.30L230.80,85.90L231.20,85.89L231.60,85.73L232.00,86.06L232.40,86.44L232.80,86.57L233.20,86.74L233.60,86.53L234.00,86.05L234.40,86.29L234.80,86.90L235.20,86.98L235.60,86.79L236.00,86.76L236.40,86.82L236.80,86.95L237.20,86.99L237.60,87.04L238.00,87.34L238.40,87.58L238.80,87.54L239.20,87.41L239.60,87.33L240.00,87.32L240.40,87.31L240.80,87.37L241.20,87.41L241.60,87.19L242.00,87.11L242.40,87.35L242.80,87.45L243.20,87.41L243.60,87.49L244.00,87.65L244.40,87.80L244.80,87.95L245.20,87.96L245.60,87.77L246.00,87.77L246.40,87.98L246.80,88.01L247.20,87.99L247.60,88.10L248.00,88.18L248.40,88.27L248.80,88.34L249.20,88.27L249.60,88.11L250.00,87.98L250.40,88.07L250.80,88.26L251.20,88.23L251.60,88.11L252.00,88.13L252.40,88.29L252.80,88.45L253.20,88.54L253.60,88.52L254.00,88.51L254.40,88.47L254.80,88.46L255.20,88.58L255.60,88.58L256.00,88.51L256.40,88.47L256.80,88.51L257.20,88.64L257.60,88.68L258.00,88.63L258.40,88.64L258.80,88.68L259.20,88.68L259.60,88.67L260.00,88.72L260.40,88.72L260.80,88.64L261.20,88.63L261.60,88.70L262.00,88.77L262.40,88.80L262.80,88.80L263.20,88.80L263.60,88.79L264.00,88.77L264.40,88.79L264.80,88.80L264.80,88.80Z" fill="#0530a8"/>
<line x1="182.7" y1="100.4" x2="297.9" y2="100.4" stroke="#d84a5a" stroke-width="1.3"/>
<path d="M185.00,100.70L185.00,100.70L185.40,100.67L185.80,100.57L186.20,100.45L186.60,100.27L187.00,100.07L187.40,99.87L187.80,99.55L188.20,99.03L188.60,98.37L189.00,97.68L189.40,97.12L189.80,96.43L190.20,95.45L190.60,94.55L191.00,93.88L191.40,92.92L191.80,91.51L192.20,90.19L192.60,89.10L193.00,87.95L193.40,86.77L193.80,85.70L194.20,84.49L194.60,83.12L195.00,81.95L195.40,81.30L195.80,80.84L196.20,80.32L196.60,80.10L197.00,80.04L197.40,79.85L197.80,79.72L198.20,79.87L198.60,79.92L199.00,80.08L199.40,80.89L199.80,81.91L200.20,82.57L200.60,83.06L201.00,83.73L201.40,84.37L201.80,84.84L202.20,85.22L202.60,85.69L203.00,86.23L203.40,86.66L203.80,87.24L204.20,87.72L204.60,88.06L205.00,88.49L205.40,89.02L205.80,89.74L206.20,90.31L206.60,90.60L207.00,90.96L207.40,91.18L207.80,91.34L208.20,91.77L208.60,92.27L209.00,92.64L209.40,92.89L209.80,93.23L210.20,93.60L210.60,93.85L211.00,94.12L211.40,94.38L211.80,94.58L212.20,94.72L212.60,94.95L213.00,95.28L213.40,95.52L213.80,95.63L214.20,95.73L214.60,95.96L215.00,96.25L215.40,96.40L215.80,96.61L216.20,96.91L216.60,97.08L217.00,97.18L217.40,97.28L217.80,97.46L218.20,97.68L218.60,97.82L219.00,97.86L219.40,97.84L219.80,97.95L220.20,98.19L220.60,98.18L221.00,98.05L221.40,98.22L221.80,98.45L222.20,98.63L222.60,98.75L223.00,98.70L223.40,98.78L223.80,98.91L224.20,98.92L224.60,99.03L225.00,99.12L225.40,99.11L225.80,99.15L226.20,99.24L226.60,99.33L227.00,99.44L227.40,99.46L227.80,99.38L228.20,99.37L228.60,99.45L229.00,99.53L229.40,99.60L229.80,99.66L230.20,99.67L230.60,99.66L231.00,99.71L231.40,99.77L231.80,99.83L232.20,99.85L232.60,99.83L233.00,99.89L233.40,99.96L233.80,99.99L234.20,100.02L234.60,100.05L235.00,100.07L235.40,100.06L235.80,100.10L236.20,100.15L236.60,100.13L237.00,100.16L237.40,100.21L237.80,100.21L238.20,100.19L238.60,100.21L239.00,100.26L239.40,100.28L239.80,100.30L240.20,100.32L240.60,100.35L241.00,100.37L241.40,100.39L241.80,100.46L242.20,100.49L242.60,100.48L243.00,100.47L243.40,100.48L243.80,100.49L244.20,100.50L244.60,100.51L245.00,100.54L245.40,100.55L245.80,100.56L246.20,100.58L246.60,100.60L247.00,100.62L247.40,100.64L247.80,100.65L248.20,100.65L248.60,100.66L249.00,100.67L249.40,100.68L249.80,100.69L249.80,100.70Z" fill="#cc0010"/>
<line x1="182.7" y1="111.5" x2="297.9" y2="111.5" stroke="#74f048" stroke-width="1.3"/>
<path d="M184.00,111.80L184.00,111.80L184.40,111.74L184.80,111.60L185.20,111.38L185.60,111.11L186.00,110.79L186.40,110.43L186.80,109.80L187.20,108.81L187.60,107.54L188.00,106.04L188.40,104.45L188.80,102.94L189.20,101.29L189.60,99.41L190.00,97.65L190.40,96.31L190.80,95.06L191.20,93.84L191.60,92.91L192.00,92.02L192.40,91.08L192.80,90.71L193.20,90.61L193.60,90.70L194.00,91.44L194.40,92.27L194.80,93.00L195.20,93.68L195.60,94.46L196.00,95.56L196.40,96.61L196.80,97.72L197.20,98.78L197.60,99.63L198.00,100.72L198.40,101.98L198.80,103.10L199.20,104.03L199.60,104.84L200.00,105.49L200.40,106.22L200.80,107.12L201.20,107.75L201.60,108.16L202.00,108.62L202.40,108.98L202.80,109.27L203.20,109.50L203.60,109.72L204.00,109.93L204.40,110.16L204.80,110.38L205.20,110.57L205.60,110.73L206.00,110.90L206.40,111.05L206.80,111.18L207.20,111.23L207.60,111.29L208.00,111.37L208.40,111.41L208.80,111.44L209.20,111.47L209.60,111.53L210.00,111.59L210.40,111.64L210.80,111.68L211.20,111.68L211.60,111.69L212.00,111.72L212.40,111.71L212.80,111.71L213.20,111.73L213.60,111.75L214.00,111.74L214.40,111.74L214.80,111.76L215.20,111.77L215.60,111.76L216.00,111.76L216.40,111.77L216.80,111.78L217.20,111.79L217.60,111.79L218.00,111.79L218.40,111.79L218.80,111.79L219.20,111.80L219.60,111.80L220.00,111.80L220.00,111.80Z" fill="#3cff00"/>
<line x1="182.7" y1="123.10000000000001" x2="297.9" y2="123.10000000000001" stroke="#2f58c4" stroke-width="1.3"/>
<path d="M184.00,123.40L184.00,123.40L184.40,123.28L184.80,123.11L185.20,123.01L185.60,122.90L186.00,122.71L186.40,122.46L186.80,122.11L187.20,121.62L187.60,121.35L188.00,121.36L188.40,120.99L188.80,120.08L189.20,119.49L189.60,119.29L190.00,118.88L190.40,118.28L190.80,117.26L191.20,115.90L191.60,115.29L192.00,115.00L192.40,114.40L192.80,113.43L193.20,111.60L193.60,109.72L194.00,108.19L194.40,107.48L194.80,107.53L195.20,106.63L195.60,105.31L196.00,104.95L196.40,104.84L196.80,104.17L197.20,103.36L197.60,102.98L198.00,103.23L198.40,103.52L198.80,103.47L199.20,103.43L199.60,103.42L200.00,103.09L200.40,102.65L200.80,102.42L201.20,102.31L201.60,102.66L202.00,103.81L202.40,104.79L202.80,104.54L203.20,104.77L203.60,106.21L204.00,107.10L204.40,107.40L204.80,107.64L205.20,107.88L205.60,108.13L206.00,108.46L206.40,109.05L206.80,109.40L207.20,109.84L207.60,110.09L208.00,109.93L208.40,110.23L208.80,110.82L209.20,111.26L209.60,111.42L210.00,111.78L210.40,112.80L210.80,113.43L211.20,113.08L211.60,113.07L212.00,113.61L212.40,114.03L212.80,114.36L213.20,114.88L213.60,115.42L214.00,115.51L214.40,115.65L214.80,116.23L215.20,116.28L215.60,115.86L216.00,116.21L216.40,116.97L216.80,117.73L217.20,118.44L217.60,118.43L218.00,117.90L218.40,117.99L218.80,118.72L219.20,118.64L219.60,118.12L220.00,118.32L220.40,118.63L220.80,118.79L221.20,119.18L221.60,119.38L222.00,119.28L222.40,119.49L222.80,119.73L223.20,119.84L223.60,120.27L224.00,120.08L224.40,119.63L224.80,119.98L225.20,120.38L225.60,120.63L226.00,120.78L226.40,120.84L226.80,120.79L227.20,120.51L227.60,120.36L228.00,120.43L228.40,120.65L228.80,120.85L229.20,120.82L229.60,120.79L230.00,120.94L230.40,121.22L230.80,121.25L231.20,121.06L231.60,121.13L232.00,121.39L232.40,121.56L232.80,121.51L233.20,121.38L233.60,121.43L234.00,121.64L234.40,121.67L234.80,121.68L235.20,121.73L235.60,121.62L236.00,121.65L236.40,121.94L236.80,122.26L237.20,122.29L237.60,122.11L238.00,122.05L238.40,121.99L238.80,121.83L239.20,121.80L239.60,122.02L240.00,122.06L240.40,121.80L240.80,121.74L241.20,121.83L241.60,121.91L242.00,121.86L242.40,121.74L242.80,121.71L243.20,121.73L243.60,121.70L244.00,121.76L244.40,122.09L244.80,122.09L245.20,121.89L245.60,122.01L246.00,122.26L246.40,122.29L246.80,122.23L247.20,122.34L247.60,122.29L248.00,122.19L248.40,122.14L248.80,122.22L249.20,122.50L249.60,122.66L250.00,122.73L250.40,122.75L250.80,122.65L251.20,122.64L251.60,122.75L252.00,122.82L252.40,122.83L252.80,122.84L253.20,122.90L253.60,122.90L254.00,122.86L254.40,123.02L254.80,123.15L255.20,123.02L255.60,123.02L256.00,122.99L256.40,122.88L256.80,123.02L257.20,123.20L257.60,123.18L258.00,123.13L258.40,123.11L258.80,123.06L259.20,123.10L259.60,123.21L260.00,123.21L260.40,123.19L260.80,123.25L261.20,123.25L261.60,123.21L262.00,123.26L262.40,123.34L262.80,123.35L263.20,123.33L263.60,123.33L264.00,123.32L264.40,123.31L264.80,123.36L265.20,123.39L265.60,123.39L266.00,123.40L266.40,123.40L266.80,123.39L267.20,123.40L267.60,123.40L268.00,123.38L268.40,123.38L268.80,123.39L269.20,123.40L269.60,123.40L270.00,123.40L270.00,123.40Z" fill="#0530a8"/>
<line x1="182.7" y1="134.0" x2="297.9" y2="134.0" stroke="#d84a5a" stroke-width="1.3"/>
<path d="M183.00,134.30L183.00,134.30L183.40,134.21L183.80,134.05L184.20,133.83L184.60,133.51L185.00,133.16L185.40,132.81L185.80,132.25L186.20,131.42L186.60,130.57L187.00,129.44L187.40,127.96L187.80,126.62L188.20,125.11L188.60,123.04L189.00,120.86L189.40,118.90L189.80,117.41L190.20,115.93L190.60,114.42L191.00,113.62L191.40,113.52L191.80,113.53L192.20,113.97L192.60,114.59L193.00,115.46L193.40,116.74L193.80,118.05L194.20,119.35L194.60,120.54L195.00,121.68L195.40,123.05L195.80,124.38L196.20,125.44L196.60,126.19L197.00,127.03L197.40,127.84L197.80,128.29L198.20,128.71L198.60,129.34L199.00,130.06L199.40,130.62L199.80,131.10L200.20,131.62L200.60,132.02L201.00,132.29L201.40,132.48L201.80,132.62L202.20,132.81L202.60,133.07L203.00,133.26L203.40,133.34L203.80,133.41L204.20,133.49L204.60,133.59L205.00,133.69L205.40,133.76L205.80,133.83L206.20,133.87L206.60,133.90L207.00,133.96L207.40,134.03L207.80,134.09L208.20,134.12L208.60,134.15L209.00,134.20L209.40,134.21L209.80,134.20L210.20,134.24L210.60,134.28L211.00,134.29L211.40,134.30L211.80,134.30L211.80,134.30Z" fill="#cc0010"/>
<path d="M183.00,145.00L183.00,145.00L183.40,144.94L183.80,144.77L184.20,144.52L184.60,144.22L185.00,143.82L185.40,142.99L185.80,141.74L186.20,140.18L186.60,138.42L187.00,136.63L187.40,135.05L187.80,133.12L188.20,130.94L188.60,129.11L189.00,128.05L189.40,127.10L189.80,125.90L190.20,124.88L190.60,124.51L191.00,124.39L191.40,124.55L191.80,125.70L192.20,127.28L192.60,128.48L193.00,129.96L193.40,131.81L193.80,133.48L194.20,134.79L194.60,136.11L195.00,137.39L195.40,138.54L195.80,139.59L196.20,140.26L196.60,140.69L197.00,141.33L197.40,141.94L197.80,142.30L198.20,142.64L198.60,143.03L199.00,143.33L199.40,143.51L199.80,143.62L200.20,143.70L200.60,143.81L201.00,143.93L201.40,144.08L201.80,144.24L202.20,144.28L202.60,144.33L203.00,144.46L203.40,144.55L203.80,144.61L204.20,144.66L204.60,144.67L205.00,144.67L205.40,144.70L205.80,144.73L206.20,144.78L206.60,144.83L207.00,144.84L207.40,144.85L207.80,144.88L208.20,144.91L208.60,144.93L209.00,144.94L209.40,144.96L209.80,144.98L210.20,144.99L210.60,144.99L211.00,144.99L211.40,144.99L211.80,145.00L211.80,145.00Z" fill="#3cff00"/>
</g>
<rect x="59.7" y="31.2" width="115.1" height="114.1" fill="none" stroke="#000" stroke-width="1.4"/>
<rect x="182.7" y="31.2" width="115.2" height="114.2" fill="none" stroke="#000" stroke-width="1.4"/>
<text x="172.3" y="53.1" font-size="8.3" text-anchor="end" fill="#1a1a1a" stroke="#1a1a1a" font-weight="normal" textLength="21.1" lengthAdjust="spacingAndGlyphs" >20487</text>
<text x="295.5" y="53.1" font-size="8.3" text-anchor="end" fill="#1a1a1a" stroke="#1a1a1a" font-weight="normal" textLength="16.9" lengthAdjust="spacingAndGlyphs" >4056</text>
<text x="172.3" y="64.7" font-size="8.3" text-anchor="end" fill="#1a1a1a" stroke="#1a1a1a" font-weight="normal" textLength="16.9" lengthAdjust="spacingAndGlyphs" >9714</text>
<text x="295.5" y="64.7" font-size="8.3" text-anchor="end" fill="#1a1a1a" stroke="#1a1a1a" font-weight="normal" textLength="16.9" lengthAdjust="spacingAndGlyphs" >2322</text>
<text x="172.3" y="75.8" font-size="8.3" text-anchor="end" fill="#1a1a1a" stroke="#1a1a1a" font-weight="normal" textLength="16.9" lengthAdjust="spacingAndGlyphs" >7413</text>
<text x="295.5" y="75.8" font-size="8.3" text-anchor="end" fill="#1a1a1a" stroke="#1a1a1a" font-weight="normal" textLength="16.9" lengthAdjust="spacingAndGlyphs" >1483</text>
<text x="172.3" y="86.2" font-size="8.3" text-anchor="end" fill="#1a1a1a" stroke="#1a1a1a" font-weight="normal" textLength="21.1" lengthAdjust="spacingAndGlyphs" >14318</text>
<text x="295.5" y="86.2" font-size="8.3" text-anchor="end" fill="#1a1a1a" stroke="#1a1a1a" font-weight="normal" textLength="16.9" lengthAdjust="spacingAndGlyphs" >3147</text>
<text x="172.3" y="98.1" font-size="8.3" text-anchor="end" fill="#1a1a1a" stroke="#1a1a1a" font-weight="normal" textLength="16.9" lengthAdjust="spacingAndGlyphs" >7035</text>
<text x="295.5" y="98.1" font-size="8.3" text-anchor="end" fill="#1a1a1a" stroke="#1a1a1a" font-weight="normal" textLength="16.9" lengthAdjust="spacingAndGlyphs" >2263</text>
<text x="172.3" y="109.2" font-size="8.3" text-anchor="end" fill="#1a1a1a" stroke="#1a1a1a" font-weight="normal" textLength="16.9" lengthAdjust="spacingAndGlyphs" >5399</text>
<text x="295.5" y="109.2" font-size="8.3" text-anchor="end" fill="#1a1a1a" stroke="#1a1a1a" font-weight="normal" textLength="16.9" lengthAdjust="spacingAndGlyphs" >1398</text>
<text x="172.3" y="120.8" font-size="8.3" text-anchor="end" fill="#1a1a1a" stroke="#1a1a1a" font-weight="normal" textLength="16.9" lengthAdjust="spacingAndGlyphs" >8781</text>
<text x="295.5" y="120.8" font-size="8.3" text-anchor="end" fill="#1a1a1a" stroke="#1a1a1a" font-weight="normal" textLength="16.9" lengthAdjust="spacingAndGlyphs" >2506</text>
<text x="172.3" y="131.7" font-size="8.3" text-anchor="end" fill="#1a1a1a" stroke="#1a1a1a" font-weight="normal" textLength="16.9" lengthAdjust="spacingAndGlyphs" >3379</text>
<text x="295.5" y="131.7" font-size="8.3" text-anchor="end" fill="#1a1a1a" stroke="#1a1a1a" font-weight="normal" textLength="16.9" lengthAdjust="spacingAndGlyphs" >1261</text>
<text x="172.3" y="142.4" font-size="8.3" text-anchor="end" fill="#1a1a1a" stroke="#1a1a1a" font-weight="normal" textLength="16.9" lengthAdjust="spacingAndGlyphs" >1674</text>
<text x="295.5" y="142.4" font-size="8.3" text-anchor="end" fill="#1a1a1a" stroke="#1a1a1a" font-weight="normal" textLength="16.9" lengthAdjust="spacingAndGlyphs" >1118</text>
<line x1="73.60" y1="145.3" x2="73.60" y2="148.40" stroke="#000" stroke-width="1"/>
<line x1="102.40" y1="145.3" x2="102.40" y2="148.40" stroke="#000" stroke-width="1"/>
<line x1="131.20" y1="145.3" x2="131.20" y2="148.40" stroke="#000" stroke-width="1"/>
<line x1="160.00" y1="145.3" x2="160.00" y2="148.40" stroke="#000" stroke-width="1"/>
<line x1="79.36" y1="145.3" x2="79.36" y2="146.90" stroke="#000" stroke-width="1"/>
<line x1="85.12" y1="145.3" x2="85.12" y2="146.90" stroke="#000" stroke-width="1"/>
<line x1="90.88" y1="145.3" x2="90.88" y2="146.90" stroke="#000" stroke-width="1"/>
<line x1="96.64" y1="145.3" x2="96.64" y2="146.90" stroke="#000" stroke-width="1"/>
<line x1="108.16" y1="145.3" x2="108.16" y2="146.90" stroke="#000" stroke-width="1"/>
<line x1="113.92" y1="145.3" x2="113.92" y2="146.90" stroke="#000" stroke-width="1"/>
<line x1="119.68" y1="145.3" x2="119.68" y2="146.90" stroke="#000" stroke-width="1"/>
<line x1="125.44" y1="145.3" x2="125.44" y2="146.90" stroke="#000" stroke-width="1"/>
<line x1="136.96" y1="145.3" x2="136.96" y2="146.90" stroke="#000" stroke-width="1"/>
<line x1="142.72" y1="145.3" x2="142.72" y2="146.90" stroke="#000" stroke-width="1"/>
<line x1="148.48" y1="145.3" x2="148.48" y2="146.90" stroke="#000" stroke-width="1"/>
<line x1="154.24" y1="145.3" x2="154.24" y2="146.90" stroke="#000" stroke-width="1"/>
<line x1="165.76" y1="145.3" x2="165.76" y2="146.90" stroke="#000" stroke-width="1"/>
<line x1="171.52" y1="145.3" x2="171.52" y2="146.90" stroke="#000" stroke-width="1"/>
<line x1="190.20" y1="145.3" x2="190.20" y2="148.40" stroke="#000" stroke-width="1"/>
<line x1="213.00" y1="145.3" x2="213.00" y2="148.40" stroke="#000" stroke-width="1"/>
<line x1="235.80" y1="145.3" x2="235.80" y2="148.40" stroke="#000" stroke-width="1"/>
<line x1="258.60" y1="145.3" x2="258.60" y2="148.40" stroke="#000" stroke-width="1"/>
<line x1="281.40" y1="145.3" x2="281.40" y2="148.40" stroke="#000" stroke-width="1"/>
<line x1="197.80" y1="145.3" x2="197.80" y2="146.90" stroke="#000" stroke-width="1"/>
<line x1="205.40" y1="145.3" x2="205.40" y2="146.90" stroke="#000" stroke-width="1"/>
<line x1="220.60" y1="145.3" x2="220.60" y2="146.90" stroke="#000" stroke-width="1"/>
<line x1="228.20" y1="145.3" x2="228.20" y2="146.90" stroke="#000" stroke-width="1"/>
<line x1="243.40" y1="145.3" x2="243.40" y2="146.90" stroke="#000" stroke-width="1"/>
<line x1="251.00" y1="145.3" x2="251.00" y2="146.90" stroke="#000" stroke-width="1"/>
<line x1="266.20" y1="145.3" x2="266.20" y2="146.90" stroke="#000" stroke-width="1"/>
<line x1="273.80" y1="145.3" x2="273.80" y2="146.90" stroke="#000" stroke-width="1"/>
<line x1="289.00" y1="145.3" x2="289.00" y2="146.90" stroke="#000" stroke-width="1"/>
<line x1="296.60" y1="145.3" x2="296.60" y2="146.90" stroke="#000" stroke-width="1"/>
<text x="74.2" y="157.2" font-size="8.5" text-anchor="middle" fill="#1a1a1a" stroke="#1a1a1a" font-weight="normal" textLength="13.3" lengthAdjust="spacingAndGlyphs" >10K</text>
<text x="103.0" y="157.2" font-size="8.5" text-anchor="middle" fill="#1a1a1a" stroke="#1a1a1a" font-weight="normal" textLength="13.3" lengthAdjust="spacingAndGlyphs" >30K</text>
<text x="131.8" y="157.2" font-size="8.5" text-anchor="middle" fill="#1a1a1a" stroke="#1a1a1a" font-weight="normal" textLength="13.3" lengthAdjust="spacingAndGlyphs" >50K</text>
<text x="160.6" y="157.2" font-size="8.5" text-anchor="middle" fill="#1a1a1a" stroke="#1a1a1a" font-weight="normal" textLength="13.3" lengthAdjust="spacingAndGlyphs" >70K</text>
<text x="190.8" y="157.2" font-size="8.5" text-anchor="middle" fill="#1a1a1a" stroke="#1a1a1a" font-weight="normal" textLength="15.6" lengthAdjust="spacingAndGlyphs" >1.0K</text>
<text x="213.6" y="157.2" font-size="8.5" text-anchor="middle" fill="#1a1a1a" stroke="#1a1a1a" font-weight="normal" textLength="15.6" lengthAdjust="spacingAndGlyphs" >4.0K</text>
<text x="236.4" y="157.2" font-size="8.5" text-anchor="middle" fill="#1a1a1a" stroke="#1a1a1a" font-weight="normal" textLength="15.6" lengthAdjust="spacingAndGlyphs" >7.0K</text>
<text x="259.2" y="157.2" font-size="8.5" text-anchor="middle" fill="#1a1a1a" stroke="#1a1a1a" font-weight="normal" textLength="13.3" lengthAdjust="spacingAndGlyphs" >10K</text>
<text x="282.0" y="157.2" font-size="8.5" text-anchor="middle" fill="#1a1a1a" stroke="#1a1a1a" font-weight="normal" textLength="13.3" lengthAdjust="spacingAndGlyphs" >13K</text>
<line x1="62" y1="161.2" x2="294.5" y2="161.2" stroke="#000" stroke-width="1.3"/>
<path d="M293.3,158.2 L299.6,161.2 L293.3,164.3 Z" fill="#000"/>
<text x="151.2" y="171.0" font-size="8.4" text-anchor="start" fill="#1a1a1a" stroke="#1a1a1a" font-weight="normal" textLength="59.2" lengthAdjust="spacingAndGlyphs" >pSYK (Y525/526)</text>
<text x="24" y="54.9" font-size="8.2" text-anchor="start" fill="#1a1a1a" stroke="#1a1a1a" font-weight="normal" textLength="24.2" lengthAdjust="spacingAndGlyphs" >Anti-Ig</text>
<text x="24" y="63.9" font-size="8.2" text-anchor="start" fill="#1a1a1a" stroke="#1a1a1a" font-weight="normal" textLength="32.3" lengthAdjust="spacingAndGlyphs" >DC-SIGN</text>
<text x="24" y="72.9" font-size="8.2" text-anchor="start" fill="#1a1a1a" stroke="#1a1a1a" font-weight="normal" textLength="9.8" lengthAdjust="spacingAndGlyphs" >NT</text>
<path d="M22.2,46.3 Q20.3,46.3 20.3,47.9 L20.3,60.0 Q20.3,61.3 18.9,61.3 L17.0,61.3 M18.9,61.3 Q20.3,61.3 20.3,62.6 L20.3,73.7 Q20.3,75.3 22.2,75.3" fill="none" stroke="#111" stroke-width="0.95"/>
<text transform="translate(13.8,60.9) rotate(-90)" x="0" y="0" font-size="8.2" text-anchor="middle" fill="#1a1a1a" stroke="#1a1a1a" textLength="18.9" lengthAdjust="spacingAndGlyphs">1 min</text>
<text x="24" y="88.4" font-size="8.2" text-anchor="start" fill="#1a1a1a" stroke="#1a1a1a" font-weight="normal" textLength="24.2" lengthAdjust="spacingAndGlyphs" >Anti-Ig</text>
<text x="24" y="97.4" font-size="8.2" text-anchor="start" fill="#1a1a1a" stroke="#1a1a1a" font-weight="normal" textLength="32.3" lengthAdjust="spacingAndGlyphs" >DC-SIGN</text>
<text x="24" y="106.4" font-size="8.2" text-anchor="start" fill="#1a1a1a" stroke="#1a1a1a" font-weight="normal" textLength="9.8" lengthAdjust="spacingAndGlyphs" >NT</text>
<path d="M22.2,79.8 Q20.3,79.8 20.3,81.4 L20.3,93.5 Q20.3,94.8 18.9,94.8 L17.0,94.8 M18.9,94.8 Q20.3,94.8 20.3,96.1 L20.3,107.2 Q20.3,108.8 22.2,108.8" fill="none" stroke="#111" stroke-width="0.95"/>
<text transform="translate(13.8,94.4) rotate(-90)" x="0" y="0" font-size="8.2" text-anchor="middle" fill="#1a1a1a" stroke="#1a1a1a" textLength="19.4" lengthAdjust="spacingAndGlyphs">5 min</text>
<text x="24" y="124.0" font-size="8.2" text-anchor="start" fill="#1a1a1a" stroke="#1a1a1a" font-weight="normal" textLength="24.2" lengthAdjust="spacingAndGlyphs" >Anti-Ig</text>
<text x="24" y="133.0" font-size="8.2" text-anchor="start" fill="#1a1a1a" stroke="#1a1a1a" font-weight="normal" textLength="32.3" lengthAdjust="spacingAndGlyphs" >DC-SIGN</text>
<text x="24" y="142.0" font-size="8.2" text-anchor="start" fill="#1a1a1a" stroke="#1a1a1a" font-weight="normal" textLength="9.8" lengthAdjust="spacingAndGlyphs" >NT</text>
<path d="M22.2,115.4 Q20.3,115.4 20.3,117.0 L20.3,129.1 Q20.3,130.4 18.9,130.4 L17.0,130.4 M18.9,130.4 Q20.3,130.4 20.3,131.7 L20.3,142.8 Q20.3,144.4 22.2,144.4" fill="none" stroke="#111" stroke-width="0.95"/>
<text transform="translate(13.8,130.0) rotate(-90)" x="0" y="0" font-size="8.2" text-anchor="middle" fill="#1a1a1a" stroke="#1a1a1a" textLength="24.5" lengthAdjust="spacingAndGlyphs">15 min</text>
<rect x="121.30" y="184.80" width="103.18" height="102.69" fill="#000"/>
<rect x="121.30" y="184.80" width="15.04" height="14.97" fill="#000000"/>
<rect x="136.04" y="184.80" width="15.04" height="14.97" fill="#0f2408"/>
<rect x="150.78" y="184.80" width="15.04" height="14.97" fill="#001a00"/>
<rect x="165.52" y="184.80" width="15.04" height="14.97" fill="#d4ff00"/>
<rect x="180.26" y="184.80" width="15.04" height="14.97" fill="#d8ff08"/>
<rect x="195.00" y="184.80" width="15.04" height="14.97" fill="#d4ff00"/>
<rect x="209.74" y="184.80" width="15.04" height="14.97" fill="#eeff6c"/>
<rect x="121.30" y="199.47" width="15.04" height="14.97" fill="#000000"/>
<rect x="136.04" y="199.47" width="15.04" height="14.97" fill="#1e4000"/>
<rect x="150.78" y="199.47" width="15.04" height="14.97" fill="#000000"/>
<rect x="165.52" y="199.47" width="15.04" height="14.97" fill="#a0c800"/>
<rect x="180.26" y="199.47" width="15.04" height="14.97" fill="#e8ff40"/>
<rect x="195.00" y="199.47" width="15.04" height="14.97" fill="#f4ff80"/>
<rect x="209.74" y="199.47" width="15.04" height="14.97" fill="#f0ff62"/>
<rect x="121.30" y="214.14" width="15.04" height="14.97" fill="#000000"/>
<rect x="136.04" y="214.14" width="15.04" height="14.97" fill="#78a000"/>
<rect x="150.78" y="214.14" width="15.04" height="14.97" fill="#000000"/>
<rect x="165.52" y="214.14" width="15.04" height="14.97" fill="#000000"/>
<rect x="180.26" y="214.14" width="15.04" height="14.97" fill="#f2ff70"/>
<rect x="195.00" y="214.14" width="15.04" height="14.97" fill="#f4ff80"/>
<rect x="209.74" y="214.14" width="15.04" height="14.97" fill="#f0ff62"/>
<rect x="121.30" y="228.81" width="15.04" height="14.97" fill="#000000"/>
<rect x="136.04" y="228.81" width="15.04" height="14.97" fill="#000000"/>
<rect x="150.78" y="228.81" width="15.04" height="14.97" fill="#80a000"/>
<rect x="165.52" y="228.81" width="15.04" height="14.97" fill="#000000"/>
<rect x="180.26" y="228.81" width="15.04" height="14.97" fill="#1e3a00"/>
<rect x="195.00" y="228.81" width="15.04" height="14.97" fill="#d8f800"/>
<rect x="209.74" y="228.81" width="15.04" height="14.97" fill="#000000"/>
<rect x="121.30" y="243.48" width="15.04" height="14.97" fill="#000000"/>
<rect x="136.04" y="243.48" width="15.04" height="14.97" fill="#c0e000"/>
<rect x="150.78" y="243.48" width="15.04" height="14.97" fill="#668800"/>
<rect x="165.52" y="243.48" width="15.04" height="14.97" fill="#000000"/>
<rect x="180.26" y="243.48" width="15.04" height="14.97" fill="#d8f800"/>
<rect x="195.00" y="243.48" width="15.04" height="14.97" fill="#dcff10"/>
<rect x="209.74" y="243.48" width="15.04" height="14.97" fill="#d8f800"/>
<rect x="121.30" y="258.15" width="15.04" height="14.97" fill="#000000"/>
<rect x="136.04" y="258.15" width="15.04" height="14.97" fill="#608000"/>
<rect x="150.78" y="258.15" width="15.04" height="14.97" fill="#98c000"/>
<rect x="165.52" y="258.15" width="15.04" height="14.97" fill="#000000"/>
<rect x="180.26" y="258.15" width="15.04" height="14.97" fill="#d8f800"/>
<rect x="195.00" y="258.15" width="15.04" height="14.97" fill="#d8f800"/>
<rect x="209.74" y="258.15" width="15.04" height="14.97" fill="#d8f800"/>
<rect x="121.30" y="272.82" width="15.04" height="14.97" fill="#000000"/>
<rect x="136.04" y="272.82" width="15.04" height="14.97" fill="#000000"/>
<rect x="150.78" y="272.82" width="15.04" height="14.97" fill="#000000"/>
<rect x="165.52" y="272.82" width="15.04" height="14.97" fill="#000000"/>
<rect x="180.26" y="272.82" width="15.04" height="14.97" fill="#dcfc10"/>
<rect x="195.00" y="272.82" width="15.04" height="14.97" fill="#dcfc10"/>
<rect x="209.74" y="272.82" width="15.04" height="14.97" fill="#e0ff20"/>
<rect x="121.30" y="184.80" width="103.18" height="102.69" fill="none" stroke="#000" stroke-width="1.3"/>
<line x1="118.1" y1="192.14" x2="121" y2="192.14" stroke="#000" stroke-width="1"/>
<text x="115.0" y="195.04" font-size="8.4" text-anchor="end" fill="#1a1a1a" stroke="#1a1a1a" font-weight="normal" textLength="38.1" lengthAdjust="spacingAndGlyphs" >16-TB0014</text>
<line x1="118.1" y1="206.81" x2="121" y2="206.81" stroke="#000" stroke-width="1"/>
<text x="115.0" y="209.71" font-size="8.4" text-anchor="end" fill="#1a1a1a" stroke="#1a1a1a" font-weight="normal" textLength="38.1" lengthAdjust="spacingAndGlyphs" >16-TB0006</text>
<line x1="118.1" y1="221.48" x2="121" y2="221.48" stroke="#000" stroke-width="1"/>
<text x="115.0" y="224.38" font-size="8.4" text-anchor="end" fill="#1a1a1a" stroke="#1a1a1a" font-weight="normal" textLength="38.1" lengthAdjust="spacingAndGlyphs" >17-TB0084</text>
<line x1="118.1" y1="236.15" x2="121" y2="236.15" stroke="#000" stroke-width="1"/>
<text x="115.0" y="239.05" font-size="8.4" text-anchor="end" fill="#1a1a1a" stroke="#1a1a1a" font-weight="normal" textLength="41.5" lengthAdjust="spacingAndGlyphs" >07-TFL0217</text>
<line x1="118.1" y1="250.81" x2="121" y2="250.81" stroke="#000" stroke-width="1"/>
<text x="115.0" y="253.72" font-size="8.4" text-anchor="end" fill="#1a1a1a" stroke="#1a1a1a" font-weight="normal" textLength="31.0" lengthAdjust="spacingAndGlyphs" >NU-DHL1</text>
<line x1="118.1" y1="265.49" x2="121" y2="265.49" stroke="#000" stroke-width="1"/>
<text x="115.0" y="268.38" font-size="8.4" text-anchor="end" fill="#1a1a1a" stroke="#1a1a1a" font-weight="normal" textLength="43.1" lengthAdjust="spacingAndGlyphs" >WSU-FSCCL</text>
<line x1="118.1" y1="280.16" x2="121" y2="280.16" stroke="#000" stroke-width="1"/>
<text x="115.0" y="283.06" font-size="8.4" text-anchor="end" fill="#1a1a1a" stroke="#1a1a1a" font-weight="normal" textLength="20.7" lengthAdjust="spacingAndGlyphs" >TMD8</text>
<line x1="128.67" y1="287.49" x2="128.67" y2="290.49" stroke="#000" stroke-width="1"/>
<text transform="translate(131.47,293.5) rotate(-90)" x="0" y="0" font-size="8.6" text-anchor="end" fill="#1a1a1a" stroke="#1a1a1a" textLength="10.4" lengthAdjust="spacingAndGlyphs">NT</text>
<line x1="143.41" y1="287.49" x2="143.41" y2="290.49" stroke="#000" stroke-width="1"/>
<text transform="translate(146.21,293.5) rotate(-90)" x="0" y="0" font-size="8.6" text-anchor="end" fill="#1a1a1a" stroke="#1a1a1a" textLength="17.3" lengthAdjust="spacingAndGlyphs">1min</text>
<line x1="158.15" y1="287.49" x2="158.15" y2="290.49" stroke="#000" stroke-width="1"/>
<text transform="translate(160.95,293.5) rotate(-90)" x="0" y="0" font-size="8.6" text-anchor="end" fill="#1a1a1a" stroke="#1a1a1a" textLength="17.3" lengthAdjust="spacingAndGlyphs">5min</text>
<line x1="172.89" y1="287.49" x2="172.89" y2="290.49" stroke="#000" stroke-width="1"/>
<text transform="translate(175.69,293.5) rotate(-90)" x="0" y="0" font-size="8.6" text-anchor="end" fill="#1a1a1a" stroke="#1a1a1a" textLength="20.8" lengthAdjust="spacingAndGlyphs">15min</text>
<line x1="187.63" y1="287.49" x2="187.63" y2="290.49" stroke="#000" stroke-width="1"/>
<text transform="translate(190.43,293.5) rotate(-90)" x="0" y="0" font-size="8.6" text-anchor="end" fill="#1a1a1a" stroke="#1a1a1a" textLength="17.3" lengthAdjust="spacingAndGlyphs">1min</text>
<line x1="202.37" y1="287.49" x2="202.37" y2="290.49" stroke="#000" stroke-width="1"/>
<text transform="translate(205.17,293.5) rotate(-90)" x="0" y="0" font-size="8.6" text-anchor="end" fill="#1a1a1a" stroke="#1a1a1a" textLength="17.3" lengthAdjust="spacingAndGlyphs">5min</text>
<line x1="217.11" y1="287.49" x2="217.11" y2="290.49" stroke="#000" stroke-width="1"/>
<text transform="translate(219.91,293.5) rotate(-90)" x="0" y="0" font-size="8.6" text-anchor="end" fill="#1a1a1a" stroke="#1a1a1a" textLength="20.8" lengthAdjust="spacingAndGlyphs">15min</text>
<line x1="138.5" y1="317.4" x2="178.6" y2="317.4" stroke="#d8304a" stroke-width="1.1"/>
<line x1="184.3" y1="317.4" x2="223.6" y2="317.4" stroke="#3a5ccc" stroke-width="1.1"/>
<text x="142.7" y="327.4" font-size="8.7" text-anchor="start" fill="#d42a40" stroke="#d42a40" font-weight="normal" textLength="32.8" lengthAdjust="spacingAndGlyphs" >DC-SIGN</text>
<text x="193.5" y="327.2" font-size="8.7" text-anchor="start" fill="#3050c0" stroke="#3050c0" font-weight="normal" textLength="23.1" lengthAdjust="spacingAndGlyphs" >anti-Ig</text>
<defs><linearGradient id="cb" x1="0" y1="1" x2="0" y2="0"><stop offset="0" stop-color="#000"/><stop offset="0.05" stop-color="#000"/><stop offset="0.1" stop-color="#2a3a00"/><stop offset="0.14" stop-color="#6a8400"/><stop offset="0.2" stop-color="#b8d800"/><stop offset="0.27" stop-color="#d8f800"/><stop offset="0.6" stop-color="#dcff10"/><stop offset="0.8" stop-color="#e6ff38"/><stop offset="1" stop-color="#f4ff88"/></linearGradient></defs>
<rect x="246.6" y="184.3" width="7.6" height="102.9" fill="url(#cb)" stroke="#000" stroke-width="1.1"/>
<text x="258.4" y="290.1" font-size="8.2" text-anchor="start" fill="#1a1a1a" stroke="#1a1a1a" font-weight="normal" textLength="4.1" lengthAdjust="spacingAndGlyphs" >1</text>
<line x1="247" y1="266.80" x2="248.6" y2="266.80" stroke="#000" stroke-width="1"/>
<line x1="252.2" y1="266.80" x2="253.8" y2="266.80" stroke="#000" stroke-width="1"/>
<text x="258.4" y="269.7" font-size="8.2" text-anchor="start" fill="#1a1a1a" stroke="#1a1a1a" font-weight="normal" textLength="4.1" lengthAdjust="spacingAndGlyphs" >2</text>
<line x1="247" y1="246.40" x2="248.6" y2="246.40" stroke="#000" stroke-width="1"/>
<line x1="252.2" y1="246.40" x2="253.8" y2="246.40" stroke="#000" stroke-width="1"/>
<text x="258.4" y="249.3" font-size="8.2" text-anchor="start" fill="#1a1a1a" stroke="#1a1a1a" font-weight="normal" textLength="4.1" lengthAdjust="spacingAndGlyphs" >3</text>
<line x1="247" y1="226.00" x2="248.6" y2="226.00" stroke="#000" stroke-width="1"/>
<line x1="252.2" y1="226.00" x2="253.8" y2="226.00" stroke="#000" stroke-width="1"/>
<text x="258.4" y="228.9" font-size="8.2" text-anchor="start" fill="#1a1a1a" stroke="#1a1a1a" font-weight="normal" textLength="4.1" lengthAdjust="spacingAndGlyphs" >4</text>
<line x1="247" y1="205.60" x2="248.6" y2="205.60" stroke="#000" stroke-width="1"/>
<line x1="252.2" y1="205.60" x2="253.8" y2="205.60" stroke="#000" stroke-width="1"/>
<text x="258.4" y="208.5" font-size="8.2" text-anchor="start" fill="#1a1a1a" stroke="#1a1a1a" font-weight="normal" textLength="4.1" lengthAdjust="spacingAndGlyphs" >5</text>
<text x="258.4" y="188.1" font-size="8.2" text-anchor="start" fill="#1a1a1a" stroke="#1a1a1a" font-weight="normal" textLength="4.1" lengthAdjust="spacingAndGlyphs" >6</text>
<text transform="translate(241.3,235.7) rotate(-90)" x="0" y="0" font-size="8" text-anchor="middle" fill="#1a1a1a" stroke="#1a1a1a" textLength="68.2" lengthAdjust="spacingAndGlyphs">pSYK induction scale</text>
<text x="342.6" y="15.0" font-size="11.2" text-anchor="start" fill="#000" stroke="none" font-weight="bold" >B</text>
<text transform="translate(412.20,38.6) rotate(-90)" x="0" y="0" font-size="8.6" text-anchor="start" fill="#1a1a1a" stroke="#1a1a1a" textLength="10.0" lengthAdjust="spacingAndGlyphs">NT</text>
<text transform="translate(440.80,38.6) rotate(-90)" x="0" y="0" font-size="8.6" text-anchor="start" fill="#1a1a1a" stroke="#1a1a1a" textLength="32.0" lengthAdjust="spacingAndGlyphs">DC-SIGN</text>
<text transform="translate(469.60,38.6) rotate(-90)" x="0" y="0" font-size="8.6" text-anchor="start" fill="#1a1a1a" stroke="#1a1a1a" textLength="29.0" lengthAdjust="spacingAndGlyphs">anti-IgM</text>
<defs><filter id="bl" x="-20%" y="-50%" width="140%" height="200%"><feGaussianBlur stdDeviation="0.6"/></filter><filter id="bl2" x="-20%" y="-50%" width="140%" height="200%"><feGaussianBlur stdDeviation="0.7"/></filter></defs>
<rect x="397.6" y="42.0" width="81.8" height="21.00" fill="#c7d3d1" stroke="#3e4545" stroke-width="1.2"/>
<line x1="423.8" y1="42.0" x2="423.8" y2="63.0" stroke="#1e2222" stroke-width="1.4"/>
<text x="394.3" y="56.1" font-size="8.0" text-anchor="end" fill="#1a1a1a" stroke="#1a1a1a" font-weight="normal" textLength="43.7" lengthAdjust="spacingAndGlyphs" >pAKT (S473)</text>
<rect x="397.6" y="64.2" width="81.8" height="21.40" fill="#d5e0de" stroke="#3e4545" stroke-width="1.2"/>
<line x1="423.8" y1="64.2" x2="423.8" y2="85.6" stroke="#1e2222" stroke-width="1.4"/>
<text x="394.3" y="79.0" font-size="8.0" text-anchor="end" fill="#1a1a1a" stroke="#1a1a1a" font-weight="normal" textLength="14.3" lengthAdjust="spacingAndGlyphs" >AKT</text>
<rect x="397.6" y="88.5" width="81.8" height="21.50" fill="#cfdbd9" stroke="#3e4545" stroke-width="1.2"/>
<line x1="423.8" y1="88.5" x2="423.8" y2="110.0" stroke="#1e2222" stroke-width="1.4"/>
<text x="394.3" y="101.6" font-size="8.0" text-anchor="end" fill="#1a1a1a" stroke="#1a1a1a" font-weight="normal" textLength="64.1" lengthAdjust="spacingAndGlyphs" >pERK (T202/Y204)</text>
<rect x="397.6" y="113.1" width="81.8" height="21.30" fill="#ccd8d6" stroke="#3e4545" stroke-width="1.2"/>
<line x1="423.8" y1="113.1" x2="423.8" y2="134.4" stroke="#1e2222" stroke-width="1.4"/>
<text x="394.3" y="127.0" font-size="8.0" text-anchor="end" fill="#1a1a1a" stroke="#1a1a1a" font-weight="normal" textLength="14.0" lengthAdjust="spacingAndGlyphs" >ERK</text>
<rect x="397.6" y="138.9" width="81.8" height="20.60" fill="#d2dedc" stroke="#3e4545" stroke-width="1.2"/>
<line x1="423.8" y1="138.9" x2="423.8" y2="159.5" stroke="#1e2222" stroke-width="1.4"/>
<text x="394.3" y="152.0" font-size="8.0" text-anchor="end" fill="#1a1a1a" stroke="#1a1a1a" font-weight="normal" textLength="27.0" lengthAdjust="spacingAndGlyphs" >GAPDH</text>
<defs><linearGradient id="ntg" x1="0" x2="1" y1="0" y2="0"><stop offset="0" stop-color="#9aacaa"/><stop offset="1" stop-color="#3e5050"/></linearGradient></defs>
<path d="M401.20,52.00 L417.70,51.40 A1.50,1.50 0 0 1 417.70,54.40 L401.20,53.80 A0.90,0.90 0 0 1 401.20,52.00 Z" fill="url(#ntg)" filter="url(#bl)"/>
<path d="M427.70,50.00 L445.30,50.40 A1.40,1.40 0 0 1 445.30,53.20 L427.70,53.60 A1.80,1.80 0 0 1 427.70,50.00 Z" fill="#000" filter="url(#bl)"/>
<path d="M453.30,48.65 L475.30,49.35 A2.60,2.95 0 0 1 475.30,55.25 L453.30,55.95 A2.60,3.65 0 0 1 453.30,48.65 Z" fill="#000" filter="url(#bl)"/>
<path d="M402.00,73.80 L419.85,73.55 A1.95,1.95 0 0 1 419.85,77.45 L402.00,77.20 A1.70,1.70 0 0 1 402.00,73.80 Z" fill="#000" filter="url(#bl)"/>
<path d="M428.90,72.30 L447.70,72.60 A2.20,2.30 0 0 1 447.70,77.20 L428.90,77.50 A2.20,2.60 0 0 1 428.90,72.30 Z" fill="#000" filter="url(#bl)"/>
<path d="M456.20,73.10 L474.90,73.30 A2.00,2.00 0 0 1 474.90,77.30 L456.20,77.50 A2.20,2.20 0 0 1 456.20,73.10 Z" fill="#000" filter="url(#bl)"/>
<path d="M401.50,95.70 L417.50,95.70 A0.50,0.50 0 0 1 417.50,96.70 L401.50,96.70 A0.50,0.50 0 0 1 401.50,95.70 Z" fill="#aab9b7" filter="url(#bl)"/>
<path d="M401.30,99.40 L419.50,99.40 A1.00,1.00 0 0 1 419.50,101.40 L401.30,101.40 A1.00,1.00 0 0 1 401.30,99.40 Z" fill="#7f908e" filter="url(#bl)"/>
<path d="M427.20,95.10 L444.80,95.40 A1.00,1.00 0 0 1 444.80,97.40 L427.20,97.70 A1.30,1.30 0 0 1 427.20,95.10 Z" fill="#34484a" filter="url(#bl)"/>
<path d="M427.60,98.60 L443.50,98.80 A1.50,1.50 0 0 1 443.50,101.80 L427.60,102.00 A1.70,1.70 0 0 1 427.60,98.60 Z" fill="#000" filter="url(#bl)"/>
<path d="M453.00,92.80 L474.70,93.60 A2.30,2.30 0 0 1 474.70,98.20 L453.00,99.00 A3.00,3.10 0 0 1 453.00,92.80 Z" fill="#000" filter="url(#bl)"/>
<path d="M452.80,97.60 L474.50,97.90 A2.50,2.50 0 0 1 474.50,102.90 L452.80,103.20 A2.80,2.80 0 0 1 452.80,97.60 Z" fill="#000" filter="url(#bl)"/>
<path d="M402.65,119.35 L420.05,119.35 A1.75,1.75 0 0 1 420.05,122.85 L402.65,122.85 A1.75,1.75 0 0 1 402.65,119.35 Z" fill="#000" filter="url(#bl)"/>
<path d="M427.70,119.30 L445.20,119.30 A1.80,1.80 0 0 1 445.20,122.90 L427.70,122.90 A1.80,1.80 0 0 1 427.70,119.30 Z" fill="#000" filter="url(#bl)"/>
<path d="M452.95,119.35 L474.35,119.35 A1.75,1.75 0 0 1 474.35,122.85 L452.95,122.85 A1.75,1.75 0 0 1 452.95,119.35 Z" fill="#000" filter="url(#bl)"/>
<path d="M402.65,124.45 L420.05,124.45 A1.75,1.75 0 0 1 420.05,127.95 L402.65,127.95 A1.75,1.75 0 0 1 402.65,124.45 Z" fill="#000" filter="url(#bl)"/>
<path d="M427.70,124.40 L445.20,124.40 A1.80,1.80 0 0 1 445.20,128.00 L427.70,128.00 A1.80,1.80 0 0 1 427.70,124.40 Z" fill="#000" filter="url(#bl)"/>
<path d="M452.95,124.45 L474.35,124.45 A1.75,1.75 0 0 1 474.35,127.95 L452.95,127.95 A1.75,1.75 0 0 1 452.95,124.45 Z" fill="#000" filter="url(#bl)"/>
<rect x="399.20" y="145.00" width="25.60" height="5.80" rx="4" ry="2.90" fill="#000" filter="url(#bl)"/>
<rect x="423.40" y="143.70" width="28.00" height="6.40" rx="4.5" ry="3.20" fill="#000" filter="url(#bl)"/>
<rect x="449.40" y="144.10" width="28.50" height="6.00" rx="5" ry="3.00" fill="#000" filter="url(#bl)"/>
<text x="342.8" y="185.1" font-size="11.6" text-anchor="start" fill="#000" stroke="none" font-weight="bold" >C</text>
<line x1="397.1" y1="200.7" x2="397.1" y2="278.6" stroke="#000" stroke-width="1.3"/>
<line x1="394.3" y1="278.0" x2="513.1" y2="278.0" stroke="#000" stroke-width="1.3"/>
<line x1="394.3" y1="201.1" x2="397.2" y2="201.1" stroke="#000" stroke-width="1.2"/>
<line x1="394.3" y1="226.8" x2="397.2" y2="226.8" stroke="#000" stroke-width="1.2"/>
<line x1="394.3" y1="252.5" x2="397.2" y2="252.5" stroke="#000" stroke-width="1.2"/>
<text x="390.6" y="203.8" font-size="7.8" text-anchor="end" fill="#1a1a1a" stroke="#1a1a1a" font-weight="normal" textLength="7.6" lengthAdjust="spacingAndGlyphs" >60</text>
<text x="390.6" y="229.5" font-size="7.8" text-anchor="end" fill="#1a1a1a" stroke="#1a1a1a" font-weight="normal" textLength="7.6" lengthAdjust="spacingAndGlyphs" >40</text>
<text x="390.6" y="255.2" font-size="7.8" text-anchor="end" fill="#1a1a1a" stroke="#1a1a1a" font-weight="normal" textLength="7.6" lengthAdjust="spacingAndGlyphs" >20</text>
<text x="390.6" y="280.7" font-size="7.8" text-anchor="end" fill="#1a1a1a" stroke="#1a1a1a" font-weight="normal" textLength="3.6" lengthAdjust="spacingAndGlyphs" >0</text>
<rect x="414.5" y="215.9" width="32.4" height="62.1" fill="#cc0010"/>
<line x1="430.7" y1="215.9" x2="430.7" y2="212.8" stroke="#000" stroke-width="1.1"/>
<line x1="427.7" y1="212.8" x2="433.8" y2="212.8" stroke="#000" stroke-width="1.1"/>
<rect x="463.0" y="274.6" width="32.8" height="3.4" fill="#1838a8"/>
<line x1="479.5" y1="274.6" x2="479.5" y2="262.7" stroke="#000" stroke-width="1.1"/>
<line x1="476.3" y1="262.7" x2="483.0" y2="262.7" stroke="#000" stroke-width="1.1"/>
<line x1="430.5" y1="278" x2="430.5" y2="281.2" stroke="#000" stroke-width="1.1"/>
<line x1="479.6" y1="278" x2="479.6" y2="281.2" stroke="#000" stroke-width="1.1"/>
<text transform="translate(434.2,286.3) rotate(-45)" x="0" y="0" font-size="8" text-anchor="end" fill="#1a1a1a" stroke="#1a1a1a" textLength="33.2" lengthAdjust="spacingAndGlyphs">DC-SIGN</text>
<text transform="translate(484.0,286.8) rotate(-45)" x="0" y="0" font-size="8" text-anchor="end" fill="#1a1a1a" stroke="#1a1a1a" textLength="35.5" lengthAdjust="spacingAndGlyphs">hIgG1-D1</text>
<text transform="translate(377.8,239.8) rotate(-90)" x="0" y="0" font-size="8.4" text-anchor="middle" fill="#1a1a1a" stroke="#1a1a1a" textLength="64" lengthAdjust="spacingAndGlyphs">pSYK induction (%)</text>
</svg></body></html>
